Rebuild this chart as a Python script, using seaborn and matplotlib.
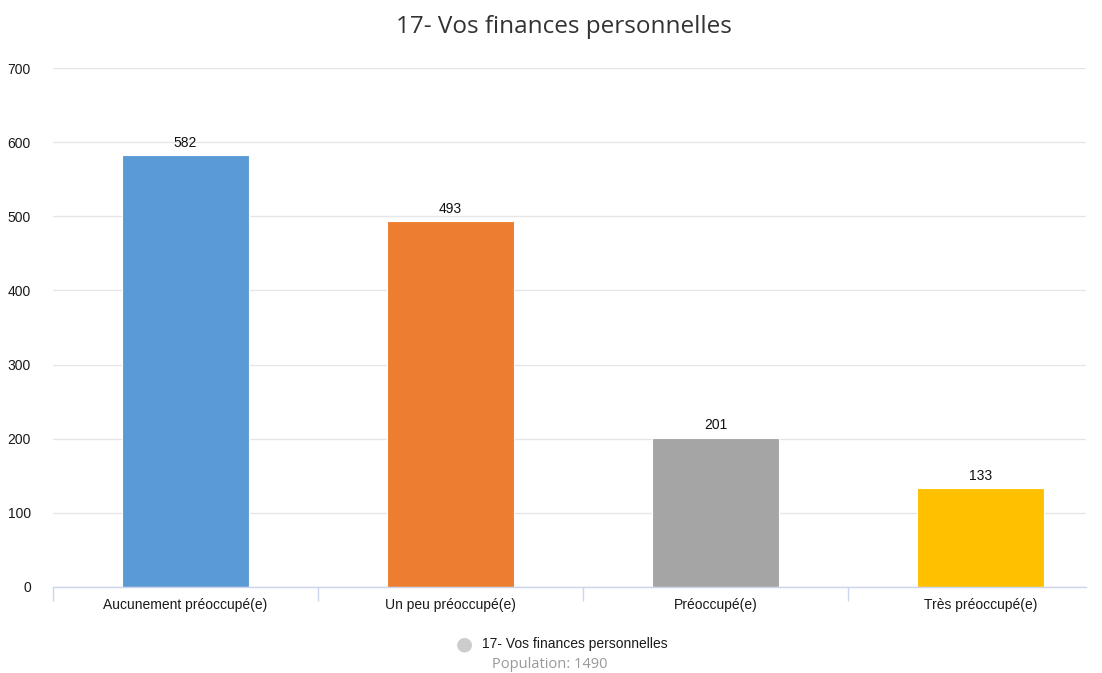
import matplotlib
matplotlib.use("Agg")
import matplotlib.pyplot as plt
import seaborn as sns
import pandas as pd
from matplotlib.ticker import FixedLocator

categories = ["Aucunement préoccupé(e)", "Un peu préoccupé(e)", "Préoccupé(e)", "Très préoccupé(e)"]
values = [582, 493, 201, 133]
colors = ["#5B9BD5", "#ED7D31", "#A5A5A5", "#FFC000"]
title = "17- Vos finances personnelles"
legend_label = "17- Vos finances personnelles"
population_text = "Population: 1490"
yticks = [0, 100, 200, 300, 400, 500, 600, 700]

sns.set_theme(style="white")
plt.rcParams['font.family'] = ['Liberation Sans', 'DejaVu Sans']

df = pd.DataFrame({"cat": categories, "val": values})

fig = plt.figure(figsize=(11.02, 6.73), dpi=100)
ax = fig.add_axes([53/1102, 1-587/673, (1086-53)/1102, (587-68)/673])

sns.barplot(data=df, x="cat", y="val", hue="cat", palette=colors, width=0.483,
            legend=False, ax=ax, saturation=1, edgecolor="white", linewidth=0.8)

ax.set_ylim(0, 700)
ax.set_xlim(-0.5, -0.5 + (1086 - 53) / 265)
ax.set_yticks(yticks)
ax.yaxis.grid(True, color="#e6e6e6", linewidth=1)
ax.set_axisbelow(True)
for s in ["top", "right", "left"]:
    ax.spines[s].set_visible(False)
ax.spines["bottom"].set_color("#ccd6eb")
ax.spines["bottom"].set_linewidth(1)

ax.set_xlabel("")
ax.set_ylabel("")
ax.tick_params(axis="y", length=0, pad=16, labelsize=10, labelcolor="#1a1a1a")
ax.tick_params(axis="x", which="major", length=0, pad=8, labelsize=10, labelcolor="#1a1a1a")
ax.xaxis.set_minor_locator(FixedLocator([-0.5, 0.5, 1.5, 2.5]))
ax.tick_params(axis="x", which="minor", bottom=True, length=10, color="#ccd6eb", width=1)

for i, v in enumerate(values):
    ax.annotate(str(v), (i, v), xytext=(0, 4), textcoords="offset points",
                ha="center", va="bottom", fontsize=10, color="#111111")

fig.text(564/1102, 1-27/673, title, ha="center", va="center", fontsize=17.5,
         color="#333333", family=["Open Sans", "DejaVu Sans"])

fig.text(464/1102, 1-644/673, "\u25CF", ha="center", va="center", fontsize=14, color="#cccccc",
         family=["DejaVu Sans"])
fig.text(482/1102, 1-644/673, legend_label, ha="left", va="center", fontsize=10,
         color="#1a1a1a")
fig.text(550/1102, 1-665/673, population_text, ha="center", va="center", fontsize=10.5,
         color="#999999", family=["Open Sans", "DejaVu Sans"])

fig.savefig("out.png", dpi=100, facecolor="white")
